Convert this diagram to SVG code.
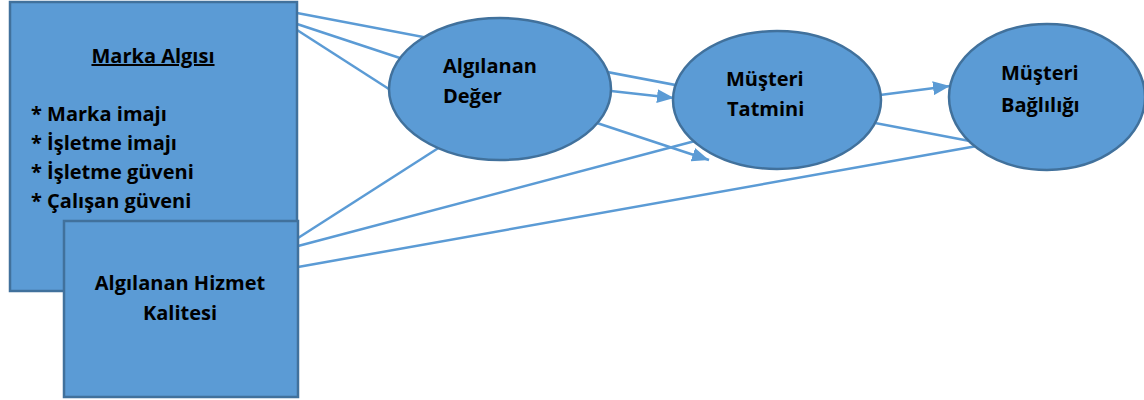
<svg xmlns="http://www.w3.org/2000/svg" width="1144" height="400" viewBox="0 0 1144 400">
<style>
.node{fill:#5b9bd5;stroke:#41719c;stroke-width:2.5}
.t{font-family:"Open Sans","Liberation Sans",sans-serif;font-weight:bold;font-size:20px;fill:#000}
.c{fill:none;stroke:#5b9bd5;stroke-width:2.5}
</style>
<defs>
<marker id="arr" markerUnits="userSpaceOnUse" markerWidth="18" markerHeight="14" refX="17" refY="7" orient="auto">
<path d="M0,0 L17,7 L0,14 Z" fill="#5b9bd5"/>
</marker>
</defs>
<rect width="1144" height="400" fill="#fff"/>
<g id="connectors">
<line class="c" x1="297" y1="13" x2="975" y2="142"/>
<line class="c" x1="297" y1="24" x2="709" y2="160" marker-end="url(#arr)"/>
<line class="c" x1="297" y1="30" x2="392" y2="91"/>
<line class="c" x1="611" y1="91" x2="674" y2="98" marker-end="url(#arr)"/>
<line class="c" x1="298" y1="238" x2="440" y2="147"/>
<line class="c" x1="298" y1="246" x2="695" y2="141"/>
<line class="c" x1="298" y1="267" x2="977" y2="146"/>
<line class="c" x1="880" y1="95" x2="950" y2="86" marker-end="url(#arr)"/>
</g>
<g id="marka-algisi">
<rect class="node" x="10" y="2" width="287" height="289"/>
<text class="t" x="153" y="63" text-anchor="middle" text-decoration="underline">Marka Algısı</text>
<text class="t" x="31" y="121">* Marka imajı</text>
<text class="t" x="31" y="150">* İşletme imajı</text>
<text class="t" x="31" y="179">* İşletme güveni</text>
<text class="t" x="31" y="208">* Çalışan güveni</text>
</g>
<g id="algilanan-hizmet-kalitesi">
<rect class="node" x="64" y="221" width="234" height="176"/>
<text class="t" x="180" y="290" text-anchor="middle">Algılanan Hizmet</text>
<text class="t" x="180" y="320" text-anchor="middle">Kalitesi</text>
</g>
<g id="algilanan-deger">
<ellipse class="node" cx="500" cy="89" rx="111" ry="71"/>
<text class="t" x="443" y="73">Algılanan</text>
<text class="t" x="443" y="103">Değer</text>
</g>
<g id="musteri-tatmini">
<ellipse class="node" cx="777" cy="100" rx="104" ry="69"/>
<text class="t" x="726" y="86">Müşteri</text>
<text class="t" x="727" y="116">Tatmini</text>
</g>
<g id="musteri-bagliligi">
<ellipse class="node" cx="1047" cy="97" rx="98" ry="73"/>
<text class="t" x="1001" y="80">Müşteri</text>
<text class="t" x="1001" y="112">Bağlılığı</text>
</g>
</svg>
